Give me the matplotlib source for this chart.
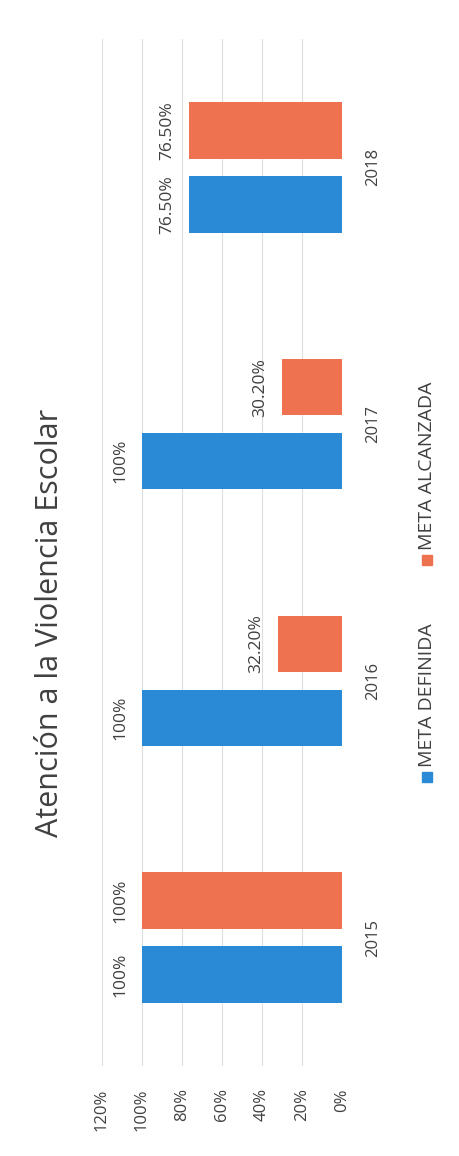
import matplotlib
matplotlib.use("Agg")
from matplotlib import pyplot as plt
from matplotlib.patches import Rectangle
import numpy as np

plt.rcParams['font.family'] = ['Open Sans', 'DejaVu Sans']

years = ['2015', '2016', '2017', '2018']
meta_definida = [1.00, 1.00, 1.00, 0.765]
meta_alcanzada = [1.00, 0.322, 0.302, 0.765]
labels_definida = ['100%', '100%', '100%', '76.50%']
labels_alcanzada = ['100%', '32.20%', '30.20%', '76.50%']
x_ticks = [0, 0.2, 0.4, 0.6, 0.8, 1.0, 1.2]
x_ticklabels = ['0%', '20%', '40%', '60%', '80%', '100%', '120%']

blue = '#2a8ad6'
orange = '#ef7250'
text_color = '#404040'

fig = plt.figure(figsize=(4.59, 11.56), dpi=100)
W, H = 459, 1156

# axes: 120% line at x=102px, 0% at x=342px; plot spans y 39..1066 px
ax = fig.add_axes([102 / W, (H - 1066) / H, 240 / W, 1027 / H])

pos = np.arange(len(years))
bh = 0.22
off = 0.144
ax.barh(pos - off, meta_definida, height=bh, color=blue, zorder=3)
ax.barh(pos + off, meta_alcanzada, height=bh, color=orange, zorder=3)

for p, v, lab in zip(pos, meta_definida, labels_definida):
    ax.annotate(lab, (v, p - off), xytext=(-10, 0), textcoords='offset points',
                rotation=90, ha='right', va='center', fontsize=12.5, color=text_color)
for p, v, lab in zip(pos, meta_alcanzada, labels_alcanzada):
    ax.annotate(lab, (v, p + off), xytext=(-10, 0), textcoords='offset points',
                rotation=90, ha='right', va='center', fontsize=12.5, color=text_color)

ax.set_xlim(1.2, 0)
ax.set_ylim(-0.5, 3.5)
ax.set_xticks(x_ticks)
ax.set_xticklabels(x_ticklabels, rotation=90, va='top', ha='center',
                   fontsize=12, color=text_color)
ax.set_yticks(pos)
ax.set_yticklabels(years, rotation=90, va='center', fontsize=12, color=text_color)
ax.yaxis.tick_right()
ax.tick_params(axis='x', length=0, pad=16)
ax.tick_params(axis='y', length=0, pad=17)
ax.grid(axis='x', color='#dedede', linewidth=0.8, zorder=0)
for s in ax.spines.values():
    s.set_visible(False)

# title (rotated with the page)
fig.text(50 / W, 1 - 623 / H, 'Atención a la Violencia Escolar', rotation=90,
         ha='center', va='center', fontsize=22, color=text_color)

# legend drawn by hand, rotated
leg_x = 427
sq = 10
for name, col, sy, ty in [('META DEFINIDA', blue, 777, 767),
                          ('META ALCANZADA', orange, 560, 550)]:
    fig.add_artist(Rectangle(((leg_x - sq / 2) / W, 1 - (sy + sq / 2) / H),
                             sq / W, sq / H, transform=fig.transFigure,
                             color=col))
    fig.text(leg_x / W, 1 - ty / H, name, rotation=90, ha='center', va='bottom',
             fontsize=14, color=text_color)

fig.savefig('out.png', dpi=100, facecolor='white')
